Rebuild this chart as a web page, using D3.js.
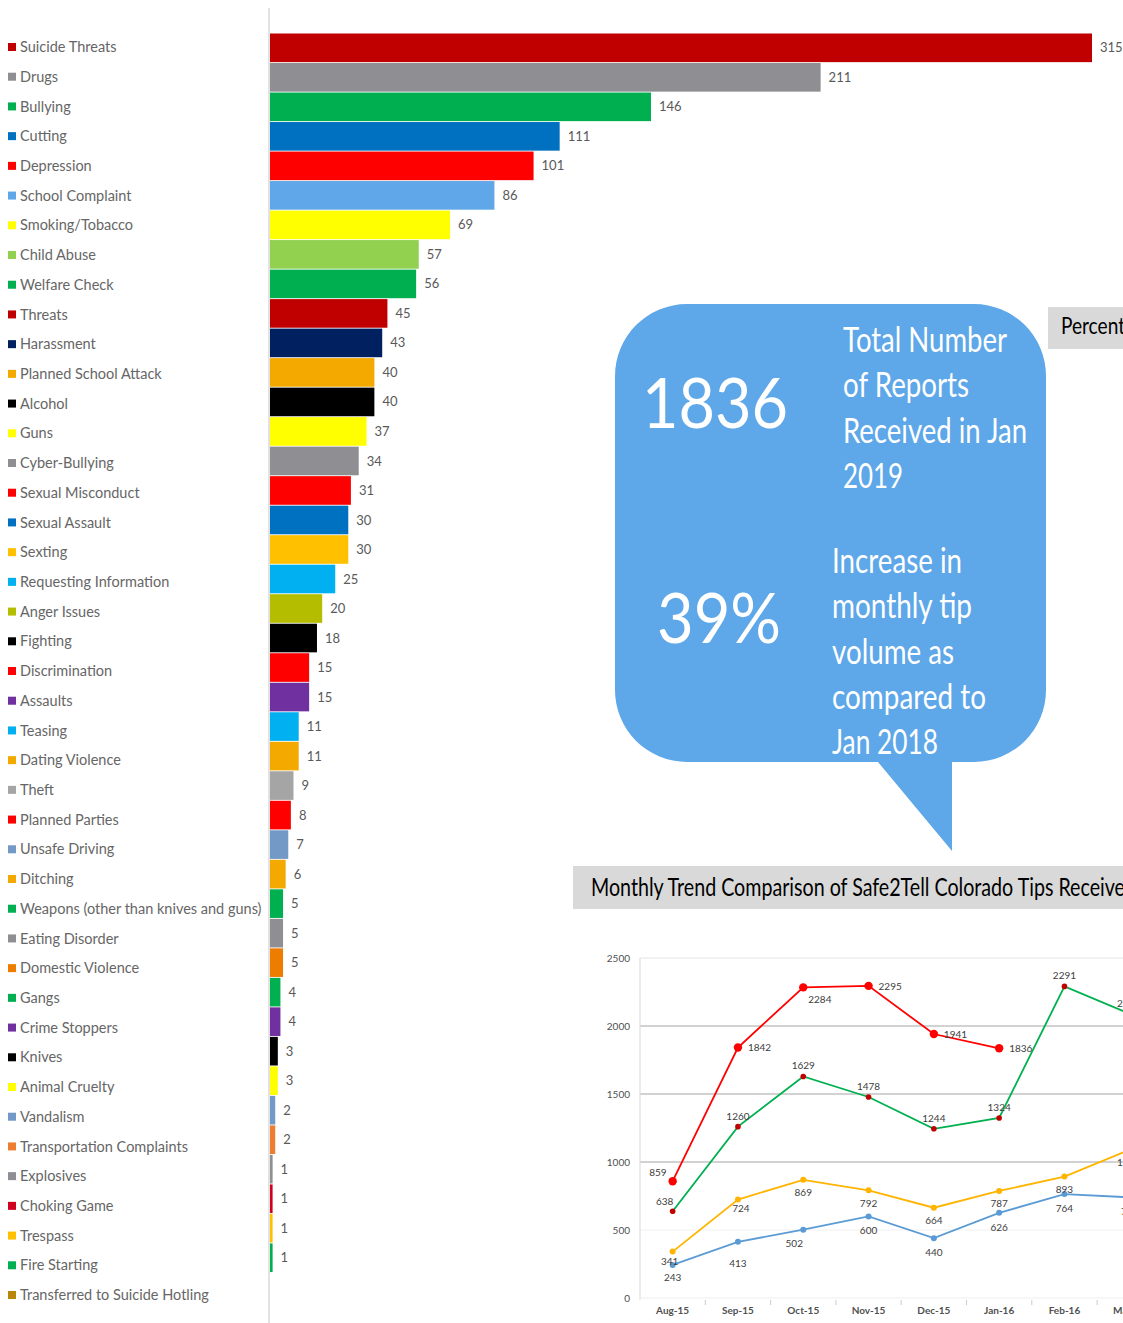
<!DOCTYPE html>
<html>
<head>
<meta charset="utf-8">
<script src="https://cdn.jsdelivr.net/npm/d3@7/dist/d3.min.js"></script>
<style>
  html, body { margin: 0; padding: 0; background: #fff; }
  svg { display: block; }
  text { font-family: Lato, "Open Sans", sans-serif; }
</style>
</head>
<body>
<svg id="chart" width="1123" height="1323"></svg>
<script>
// ---------- DATA ----------
const categories = [
  "Suicide Threats","Drugs","Bullying","Cutting","Depression","School Complaint",
  "Smoking/Tobacco","Child Abuse","Welfare Check","Threats","Harassment",
  "Planned School Attack","Alcohol","Guns","Cyber-Bullying","Sexual Misconduct",
  "Sexual Assault","Sexting","Requesting Information","Anger Issues","Fighting",
  "Discrimination","Assaults","Teasing","Dating Violence","Theft","Planned Parties",
  "Unsafe Driving","Ditching","Weapons (other than knives and guns)","Eating Disorder",
  "Domestic Violence","Gangs","Crime Stoppers","Knives","Animal Cruelty","Vandalism",
  "Transportation Complaints","Explosives","Choking Game","Trespass","Fire Starting",
  "Transferred to Suicide Hotling"
];
const counts = [315,211,146,111,101,86,69,57,56,45,43,40,40,37,34,31,30,30,25,20,18,
  15,15,11,11,9,8,7,6,5,5,5,4,4,3,3,2,2,1,1,1,1,null];
const categoryColors = [
  "#C00000","#8E8E93","#00B050","#0070C0","#FF0000","#5FA7E8","#FFFF00","#92D050",
  "#00B050","#C00000","#002060","#F4A900","#000000","#FFFF00","#8E8E93","#FF0000",
  "#0070C0","#FFC000","#00B0F0","#B5BD00","#000000","#FF0000","#7030A0","#00B0F0",
  "#F4A900","#A5A5A5","#FF0000","#7399C6","#F4A900","#00B050","#8E8E93","#ED7D00",
  "#00B050","#7030A0","#000000","#FFFF00","#7399C6","#ED7D31","#8E8E93","#D00020",
  "#FFC000","#00B050","#B8860B"
];

const months = ["Aug-15","Sep-15","Oct-15","Nov-15","Dec-15","Jan-16","Feb-16","Mar-16"];
const seriesRed    = [859,1842,2284,2295,1941,1836];
const seriesGreen  = [638,1260,1629,1478,1244,1324,2291,2090];
const seriesOrange = [341,724,869,792,664,787,893,1090];
const seriesBlue   = [243,413,502,600,440,626,764,740];
const yTicks = [0,500,1000,1500,2000,2500];

const calloutBig = ["1836","39%"];
const calloutText1 = ["Total Number","of Reports","Received in Jan","2019"];
const calloutText2 = ["Increase in","monthly tip","volume as","compared to","Jan 2018"];
const lineTitle = "Monthly Trend Comparison of Safe2Tell Colorado Tips Received";
const sideTitle = "Percent";

// ---------- SETUP ----------
const svg = d3.select("#chart");
svg.append("rect").attr("width",1123).attr("height",1323).attr("fill","#fff");

// ---------- LEGEND ----------
const legendY = d3.scalePoint().domain(categories).range([47, 1295]);
const legend = svg.append("g");
const li = legend.selectAll("g").data(categories).join("g")
  .attr("transform", d => `translate(0,${legendY(d)})`);
li.append("rect").attr("x",8).attr("y",-4).attr("width",8).attr("height",8)
  .attr("fill",(d,i)=>categoryColors[i]);
li.append("text").attr("x",20).attr("dy","0.35em")
  .attr("font-size",14.5).attr("fill","#666666").text(d=>d);

// ---------- BAR CHART ----------
const barX = d3.scaleLinear().domain([0,315]).range([270,1092]);
const barY = d3.scaleBand().domain(categories).range([33.5, 33.5 + 29.49*categories.length]).paddingInner(0.03);
svg.append("line").attr("x1",269).attr("x2",269).attr("y1",8).attr("y2",1323)
  .attr("stroke","#d9d9d9").attr("stroke-width",1.5);
const barData = categories.map((c,i)=>({c, v: counts[i], col: categoryColors[i]})).filter(d=>d.v!=null);
svg.append("g").selectAll("rect").data(barData).join("rect")
  .attr("x", barX(0)).attr("y", d=>barY(d.c))
  .attr("width", d=>barX(d.v)-barX(0)).attr("height", barY.bandwidth())
  .attr("fill", d=>d.col);
svg.append("g").selectAll("text").data(barData).join("text")
  .attr("x", d=>barX(d.v)+8).attr("y", d=>barY(d.c)+barY.bandwidth()/2)
  .attr("dy","0.35em").attr("font-size",13).attr("fill","#595959")
  .text(d=>d.v);

// ---------- SIDE BOX "Percent" ----------
svg.append("rect").attr("x",1048).attr("y",307).attr("width",80).attr("height",42).attr("fill","#d9d9d9");
svg.append("text").attr("x",1061).attr("y",334).attr("font-size",23).attr("fill","#000")
  .attr("textLength",64).attr("lengthAdjust","spacingAndGlyphs").text(sideTitle);

// ---------- CALLOUT ----------
(function(){
  const L=615, R=1046, T=304, B=762, r=72;
  const p = d3.path();
  p.moveTo(L+r, T);
  p.lineTo(R-r, T);
  p.arcTo(R, T, R, T+r, r);
  p.lineTo(R, B-r);
  p.arcTo(R, B, R-r, B, r);
  p.lineTo(952, B);
  p.lineTo(952, 851);
  p.lineTo(878, B);
  p.lineTo(L+r, B);
  p.arcTo(L, B, L, B-r, r);
  p.lineTo(L, T+r);
  p.arcTo(L, T, L+r, T, r);
  p.closePath();
  svg.append("path").attr("d", p.toString()).attr("fill","#5EA7E8");
})();
const cg = svg.append("g").attr("fill","#fff");
const bigLayout = [{x:642,y:428,w:146},{x:657,y:643,w:124}];
cg.selectAll("text.big").data(calloutBig).join("text").attr("class","big")
  .attr("x",(d,i)=>bigLayout[i].x).attr("y",(d,i)=>bigLayout[i].y)
  .attr("font-size",70).attr("textLength",(d,i)=>bigLayout[i].w)
  .attr("lengthAdjust","spacingAndGlyphs").text(d=>d);
const w1 = [164,126,184,60];
cg.selectAll("text.t1").data(calloutText1).join("text").attr("class","t1")
  .attr("x",843).attr("y",(d,i)=>352+i*45.3).attr("font-size",35)
  .attr("textLength",(d,i)=>w1[i]).attr("lengthAdjust","spacingAndGlyphs").text(d=>d);
const w2 = [130,140,122,154,106];
cg.selectAll("text.t2").data(calloutText2).join("text").attr("class","t2")
  .attr("x",832).attr("y",(d,i)=>573+i*45.3).attr("font-size",35)
  .attr("textLength",(d,i)=>w2[i]).attr("lengthAdjust","spacingAndGlyphs").text(d=>d);

// ---------- LINE CHART TITLE ----------
svg.append("rect").attr("x",573).attr("y",866).attr("width",560).attr("height",43).attr("fill","#d9d9d9");
svg.append("text").attr("x",591).attr("y",896).attr("font-size",25).attr("fill","#000")
  .attr("textLength",545).attr("lengthAdjust","spacingAndGlyphs").text(lineTitle);

// ---------- LINE CHART ----------
const lx = d3.scaleBand().domain(months).range([640, 640+65.3*months.length]);
const ly = d3.scaleLinear().domain([0,2500]).range([1298, 958]);
const lg = svg.append("g");
lg.selectAll("line.grid").data(yTicks.filter(t=>t>0)).join("line").attr("class","grid")
  .attr("x1",640).attr("x2",1123).attr("y1",d=>ly(d)).attr("y2",d=>ly(d))
  .attr("stroke",d=> d===2500 ? "#e6e6e6" : d===500 ? "#f2f2f2" : "#a6a6a6").attr("stroke-width",1.2);
lg.append("line").attr("x1",640).attr("x2",640).attr("y1",958).attr("y2",1300).attr("stroke","#d9d9d9");
lg.append("line").attr("x1",640).attr("x2",1123).attr("y1",1298).attr("y2",1298).attr("stroke","#eeeeee");
lg.selectAll("line.xt").data(months).join("line").attr("class","xt")
  .attr("x1",d=>lx(d)+lx.bandwidth()).attr("x2",d=>lx(d)+lx.bandwidth())
  .attr("y1",1300).attr("y2",1305).attr("stroke","#cccccc");
lg.selectAll("text.yt").data(yTicks).join("text").attr("class","yt")
  .attr("x",630).attr("y",d=>ly(d)).attr("dy","0.35em").attr("text-anchor","end")
  .attr("font-size",10).attr("fill","#505050").text(d=>d);
lg.selectAll("text.xl").data(months).join("text").attr("class","xl")
  .attr("x",d=>lx(d)+lx.bandwidth()/2).attr("y",1314).attr("text-anchor","middle")
  .attr("font-size",10).attr("font-weight","bold").attr("fill","#505050").text(d=>d);

const cx = i => lx(months[i]) + lx.bandwidth()/2;
const series = [
  {vals: seriesBlue,   line:"#5B9BD5", mk:"#5B9BD5", r:3,   pos:{dx:0,dy:18,a:"middle"}},
  {vals: seriesOrange, line:"#FFB400", mk:"#FFB400", r:3,   pos:{dx:0,dy:16.5,a:"middle"}},
  {vals: seriesGreen,  line:"#00B050", mk:"#C00000", r:2.8, pos:{dx:0,dy:-7,a:"middle"}},
  {vals: seriesRed,    line:"#FF0000", mk:"#FF0000", r:4.2, pos:{dx:10,dy:4,a:"start"}}
];
const overrides = {
  "3-0": {dx:-6,dy:-5,a:"end"},
  "3-2": {dx:5,dy:16,a:"start"},
  "2-0": {dx:-8,dy:-6,a:"middle"},
  "0-0": {dx:0,dy:16.5,a:"middle"},
  "0-1": {dx:0,dy:25,a:"middle"},
  "0-2": {dx:-9,dy:17.5,a:"middle"},
  "1-0": {dx:-3,dy:13,a:"middle"},
  "1-1": {dx:3,dy:12.5,a:"middle"}
};
const lineGen = d3.line().x((d,i)=>cx(i)).y(d=>ly(d));
series.forEach((s,si)=>{
  lg.append("path").attr("d", lineGen(s.vals)).attr("fill","none")
    .attr("stroke", s.line).attr("stroke-width",1.8);
  lg.selectAll(null).data(s.vals).join("circle")
    .attr("cx",(d,i)=>cx(i)).attr("cy",d=>ly(d)).attr("r",s.r).attr("fill",s.mk);
  lg.selectAll(null).data(s.vals).join("text")
    .each(function(d,i){
      const p = overrides[si+"-"+i] || s.pos;
      d3.select(this).attr("x",cx(i)+p.dx).attr("y",ly(d)+p.dy).attr("text-anchor",p.a);
    })
    .attr("font-size",10).attr("fill","#404040")
    .text((d,i)=> i===7 ? d3.format(",")(d) : d);
});
</script>
</body>
</html>
